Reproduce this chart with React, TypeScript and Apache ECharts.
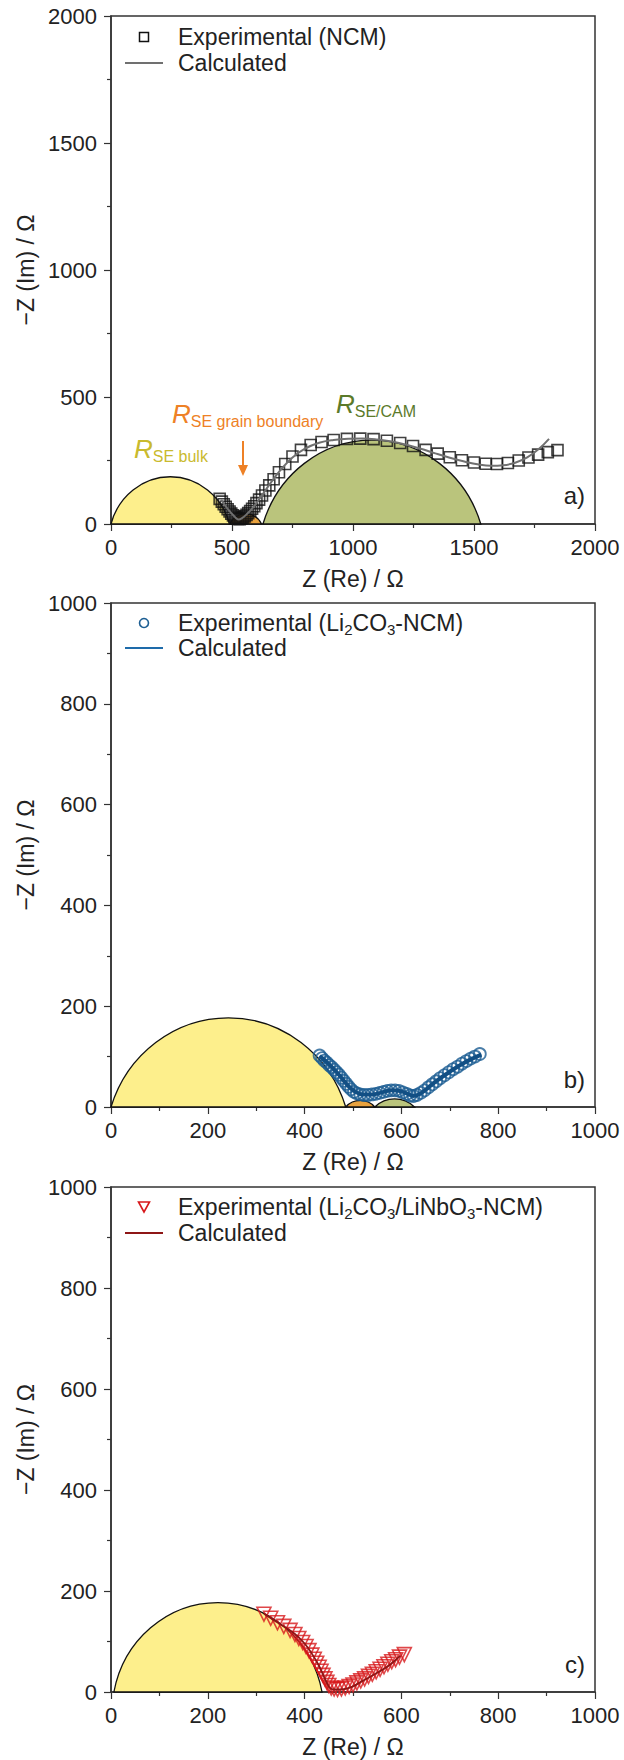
import React, { useEffect, useRef } from "react";
import * as echarts from "echarts";

const FONT = '"Liberation Sans", Arial, Helvetica, sans-serif';

// ---------- Panel a (NCM) ----------
const expA: number[][] = [
  [449, 99], [458, 88], [466, 78], [474, 68], [482, 58], [490, 49], [497, 41], [504, 34], [511, 28], [518, 23],
  [525, 20], [532, 19], [539, 21], [546, 25], [553, 30], [560, 36], [567, 43], [575, 51], [583, 60], [592, 70],
  [601, 82], [612, 96], [624, 112], [638, 132], [654, 152], [672, 176], [694, 204], [720, 236], [750, 266],
  [785, 292], [825, 311], [870, 323], [920, 331], [975, 335], [1030, 336], [1085, 334], [1140, 328], [1195, 319],
  [1248, 307], [1300, 292], [1350, 277], [1400, 263], [1450, 251], [1500, 242], [1548, 237], [1595, 236],
  [1640, 240], [1685, 250], [1725, 262], [1765, 273], [1805, 283], [1845, 291],
];
const calcA: number[][] = [
  [455, 95], [480, 62], [500, 40], [515, 25], [527, 18], [540, 22], [560, 38], [590, 68], [620, 108], [660, 162],
  [700, 212], [750, 262], [800, 296], [860, 320], [920, 331], [980, 336], [1040, 337], [1100, 333], [1160, 325],
  [1220, 312], [1280, 296], [1340, 278], [1400, 261], [1460, 246], [1520, 234], [1570, 229], [1620, 231],
  [1670, 241], [1720, 262], [1770, 297], [1810, 335],
];
// [start Re, end Re, arc height]
const arcsA: number[][] = [
  [0, 490, 186],
  [490, 622, 40],
  [628, 1528, 330],
];

// ---------- Panel b (Li2CO3-NCM) ----------
const expB: number[][] = [
  [431, 102], [436, 97], [441, 92], [446, 88], [451, 83], [456, 79], [461, 74], [466, 69], [471, 64], [476, 58],
  [481, 52], [486, 46], [491, 40], [496, 35], [502, 30], [508, 27], [515, 25], [523, 24], [531, 24], [539, 25],
  [547, 26], [555, 28], [563, 30], [571, 32], [579, 33], [587, 33], [595, 32], [603, 29], [611, 26], [618, 23],
  [625, 22], [632, 24], [640, 28], [648, 33], [656, 39], [664, 45], [672, 51], [680, 57], [689, 63], [698, 69],
  [707, 75], [716, 80], [725, 86], [734, 91], [743, 96], [752, 100], [762, 105],
];
const calcB: number[][] = [
  [431, 101], [450, 85], [470, 65], [490, 42], [505, 30], [520, 25], [540, 25], [560, 29], [580, 33], [600, 31],
  [615, 25], [625, 22], [640, 27], [670, 50], [700, 70], [730, 88], [765, 104],
];
const arcsB: number[][] = [
  [0, 485, 177],
  [485, 545, 13],
  [545, 627, 16],
];

// ---------- Panel c (Li2CO3/LiNbO3-NCM) ----------
const expC: number[][] = [
  [316, 154], [330, 146], [344, 137], [357, 130], [370, 122], [380, 114], [388, 106], [396, 98], [403, 90],
  [409, 82], [415, 73], [420, 65], [425, 57], [430, 49], [434, 41], [438, 33], [442, 26], [446, 19], [450, 13],
  [455, 8], [461, 6], [468, 5], [476, 6], [484, 8], [492, 11], [500, 14], [508, 18], [516, 22], [524, 26],
  [532, 31], [540, 35], [548, 40], [556, 45], [564, 50], [572, 55], [580, 60], [588, 64], [596, 69], [606, 74],
];
const calcC: number[][] = [
  [316, 155], [350, 134], [380, 115], [400, 96], [415, 76], [428, 55], [438, 35], [446, 18], [452, 8], [460, 5],
  [475, 5], [495, 9], [520, 22], [550, 38], [575, 53], [598, 72],
];
const arcsC: number[][] = [[6, 436, 177]];

const arcColors = ["#FDEF8C", "#E9A23E", "#BAC47C"];

const axisMax = [2000, 1000, 1000];
const axisInterval = [500, 200, 200];

const grids = [
  { left: 111, top: 16, width: 484, height: 508 },
  { left: 111, top: 603, width: 484, height: 504 },
  { left: 111, top: 1187, width: 484, height: 505 },
];

function arcRender(params: any, api: any) {
  const x0 = api.value(0);
  const x1 = api.value(1);
  const h = api.value(2);
  const p0 = api.coord([x0, 0]);
  const p1 = api.coord([x1, 0]);
  const size = api.size([1, 1]);
  const c = (x1 - x0) / 2;
  const R = (c * c + h * h) / (2 * h);
  const rx = R * size[0];
  const ry = R * size[1];
  const large = h > c ? 1 : 0;
  const d = `M${p0[0]},${p0[1]} A${rx},${ry} 0 ${large} 1 ${p1[0]},${p1[1]} Z`;
  return {
    type: "path",
    shape: { pathData: d },
    style: { fill: arcColors[params.dataIndex], stroke: "#111", lineWidth: 1.3 },
  };
}

function legendText(x: number, y: number, text: string) {
  return {
    type: "text",
    x,
    y,
    z: 100,
    style: {
      text,
      align: "left",
      verticalAlign: "middle",
      fill: "#222",
      rich: {
        m: { fontSize: 23, fontFamily: FONT, lineHeight: 27, fill: "#222" },
        s: { fontSize: 15, fontFamily: FONT, lineHeight: 15, verticalAlign: "bottom", fill: "#222" },
      },
    },
  };
}

function annot(x: number, y: number, sub: string, color: string) {
  return {
    type: "text",
    x,
    y,
    z: 100,
    style: {
      text: `{r|R}{s|${sub}}`,
      align: "left",
      verticalAlign: "middle",
      rich: {
        r: { fontSize: 26, fontStyle: "italic", fontFamily: FONT, lineHeight: 30, fill: color },
        s: { fontSize: 16, fontFamily: FONT, lineHeight: 16, verticalAlign: "bottom", fill: color },
      },
    },
  };
}

export default function App() {
  const ref = useRef<HTMLDivElement>(null);
  useEffect(() => {
    document.body.style.margin = "0";
    if (!ref.current) return;
    const chart = echarts.init(ref.current, null, { renderer: "svg" });
    const fmt = (v: number) => String(v);

    const xAxis = grids.map((_, i) => ({
      type: "value",
      gridIndex: i,
      min: 0,
      max: axisMax[i],
      interval: axisInterval[i],
      name: "Z (Re) / Ω",
      nameLocation: "middle",
      nameGap: 43,
      nameTextStyle: { fontSize: 23, fontFamily: FONT, color: "#222" },
      axisLine: { show: true, lineStyle: { color: "#333", width: 1.5 } },
      axisTick: { show: true, inside: false, length: 7, lineStyle: { color: "#333", width: 1.2 } },
      minorTick: { show: true, splitNumber: 2, length: 4, lineStyle: { color: "#333", width: 1.2 } },
      splitLine: { show: false },
      axisLabel: { fontSize: 22, fontFamily: FONT, color: "#222", margin: 12, formatter: fmt },
    }));
    const yAxis = grids.map((_, i) => ({
      type: "value",
      gridIndex: i,
      min: 0,
      max: axisMax[i],
      interval: axisInterval[i],
      name: "−Z (Im) / Ω",
      nameLocation: "middle",
      nameGap: 67,
      nameTextStyle: { fontSize: 23, fontFamily: FONT, color: "#222" },
      axisLine: { show: true, lineStyle: { color: "#333", width: 1.5 } },
      axisTick: { show: true, inside: false, length: 7, lineStyle: { color: "#333", width: 1.2 } },
      minorTick: { show: true, splitNumber: 2, length: 4, lineStyle: { color: "#333", width: 1.2 } },
      splitLine: { show: false },
      axisLabel: { fontSize: 22, fontFamily: FONT, color: "#222", margin: 14, formatter: fmt },
    }));

    const arcSets = [arcsA, arcsB, arcsC];
    const exps = [expA, expB, expC];
    const calcs = [calcA, calcB, calcC];
    const markerColors = ["#111111", "#1B5D92", "#D7191C"];
    const lineColors = ["#707070", "#124F84", "#8E1616"];
    const lineWidths = [2, 4, 1.8];
    const symbols = ["rect", "circle", "triangle"];
    const symbolSizes = [11, 12, 14];
    const borderWidths = [1.6, 1.8, 1.6];

    const series: any[] = [];
    for (let i = 0; i < 3; i++) {
      series.push({
        type: "custom",
        name: "arcs" + i,
        xAxisIndex: i,
        yAxisIndex: i,
        renderItem: arcRender,
        encode: { x: [0, 1], y: 2 },
        data: arcSets[i],
        z: 1,
        silent: true,
      });
      series.push({
        type: "scatter",
        name: "Experimental " + i,
        xAxisIndex: i,
        yAxisIndex: i,
        data: exps[i],
        symbol: symbols[i],
        symbolSize: symbolSizes[i],
        symbolRotate: i === 2 ? 180 : 0,
        itemStyle: { color: "rgba(255,255,255,0)", borderColor: markerColors[i], borderWidth: borderWidths[i] },
        z: 3,
      });
      series.push({
        type: "line",
        name: "Calculated " + i,
        xAxisIndex: i,
        yAxisIndex: i,
        data: calcs[i],
        smooth: 0.4,
        showSymbol: false,
        lineStyle: { color: lineColors[i], width: lineWidths[i] },
        z: 4,
      });
    }

    const graphic: any[] = [
      // Legend a
      { type: "rect", shape: { x: 139.5, y: 32.5, width: 9, height: 9 }, style: { fill: "none", stroke: "#111", lineWidth: 1.5 }, z: 100 },
      legendText(178, 37, "{m|Experimental (NCM)}"),
      { type: "line", shape: { x1: 125, y1: 63, x2: 163, y2: 63 }, style: { stroke: "#707070", lineWidth: 2 }, z: 100 },
      legendText(178, 63, "{m|Calculated}"),
      // Legend b
      { type: "circle", shape: { cx: 144, cy: 623, r: 4.5 }, style: { fill: "none", stroke: "#1B5D92", lineWidth: 1.6 }, z: 100 },
      legendText(178, 623, "{m|Experimental (Li}{s|2}{m|CO}{s|3}{m|-NCM)}"),
      { type: "line", shape: { x1: 125, y1: 648, x2: 163, y2: 648 }, style: { stroke: "#1E6BAA", lineWidth: 2 }, z: 100 },
      legendText(178, 648, "{m|Calculated}"),
      // Legend c
      { type: "polygon", shape: { points: [[138.5, 1202], [149.5, 1202], [144, 1212]] }, style: { fill: "none", stroke: "#D7191C", lineWidth: 1.6 }, z: 100 },
      legendText(178, 1207, "{m|Experimental (Li}{s|2}{m|CO}{s|3}{m|/LiNbO}{s|3}{m|-NCM)}"),
      { type: "line", shape: { x1: 125, y1: 1233, x2: 163, y2: 1233 }, style: { stroke: "#8E1616", lineWidth: 2 }, z: 100 },
      legendText(178, 1233, "{m|Calculated}"),
      // Annotations panel a
      annot(134, 449, "SE bulk", "#C9BA2E"),
      annot(172, 414, "SE grain boundary", "#EE8126"),
      annot(336, 404, "SE/CAM", "#5B7A2A"),
      { type: "line", shape: { x1: 243, y1: 441, x2: 243, y2: 466 }, style: { stroke: "#EE8126", lineWidth: 2 }, z: 100 },
      { type: "polygon", shape: { points: [[238, 465], [248, 465], [243, 476]] }, style: { fill: "#EE8126" }, z: 100 },
      // Panel labels
      { type: "text", x: 585, y: 495, z: 100, style: { text: "a)", font: `24px ${FONT}`, fill: "#222", align: "right", verticalAlign: "middle" } },
      { type: "text", x: 585, y: 1079, z: 100, style: { text: "b)", font: `24px ${FONT}`, fill: "#222", align: "right", verticalAlign: "middle" } },
      { type: "text", x: 585, y: 1664, z: 100, style: { text: "c)", font: `24px ${FONT}`, fill: "#222", align: "right", verticalAlign: "middle" } },
    ];

    chart.setOption({
      animation: false,
      backgroundColor: "#ffffff",
      textStyle: { fontFamily: FONT },
      grid: grids.map((g) => ({ ...g, show: true, borderColor: "#333", borderWidth: 1.5, backgroundColor: "transparent" })),
      xAxis,
      yAxis,
      series,
      graphic,
    });
    return () => chart.dispose();
  }, []);
  return <div ref={ref} style={{ width: 624, height: 1760 }} />;
}
